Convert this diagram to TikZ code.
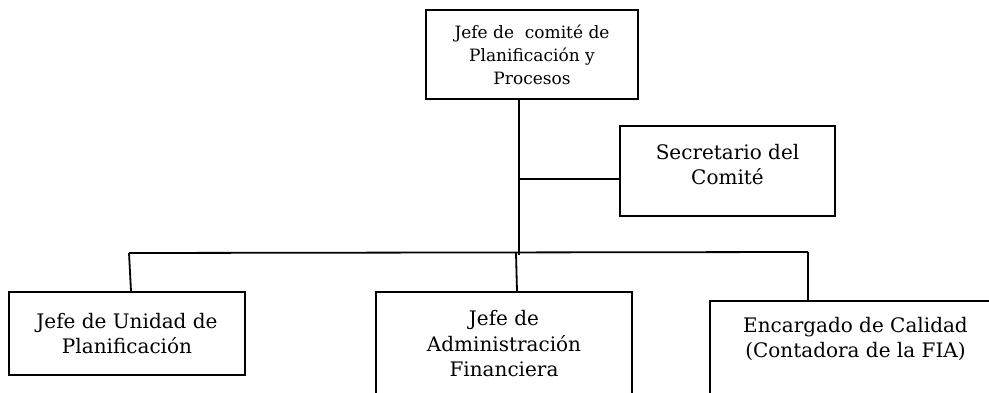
\documentclass[tikz,border=0pt]{standalone}
\usepackage{fontspec}
\setmainfont{DejaVu Serif}
\begin{document}
\begin{tikzpicture}[x=1pt,y=-1pt,
  box/.style={draw, line width=1.8pt, inner sep=0pt},
  wire/.style={line width=1.8pt},
  txtS/.style={align=center, font=\fontsize{17}{23}\selectfont},
  txtL/.style={align=center, font=\fontsize{20}{25.5}\selectfont}]
\useasboundingbox (0,0) rectangle (989,393);
\clip (0,0) rectangle (989,393);

% boxes
\node[box, minimum width=212pt, minimum height=89pt, txtS] (jefe) at (532,54.5)
  {Jefe de\ \ comité de\\Planificación y\\Procesos};
\node[box, minimum width=215pt, minimum height=90pt] (sec) at (727.5,171) {};
\node[txtL] (secT) at (727.5,164.5) {Secretario del\\Comité};
\node[box, minimum width=236pt, minimum height=83pt, txtL] (unidad) at (127,333.5)
  {Jefe de Unidad de\\Planificación};
\node[box, minimum width=256pt, minimum height=104pt, txtL] (admin) at (504,344)
  {Jefe de\\Administración\\Financiera};
\node[box, minimum width=291pt, minimum height=119pt] (calidad) at (855.5,360.5) {};
\node[txtL] (calT) at (855.5,339) {Encargado de Calidad\\(Contadora de la FIA)};

% junction points
\coordinate (xm) at (519,0);
\coordinate (vEnd) at (519,255);
\coordinate (jSec) at (519,179);
\coordinate (barL) at (129,253);
\coordinate (barR) at (808,252);
\coordinate (barM) at (516,253);
\coordinate (dL) at (131,0);
\coordinate (dM) at (517,0);

% connectors
\draw[wire] (jefe.south -| xm) -- (vEnd);
\draw[wire] (jSec) -- (jSec -| sec.west);
\draw[wire] (barL) -- (barR);
\draw[wire] (barL) -- (unidad.north -| dL);
\draw[wire] (barM) -- (admin.north -| dM);
\draw[wire] (barR) -- (calidad.north -| barR);
\end{tikzpicture}
\end{document}
